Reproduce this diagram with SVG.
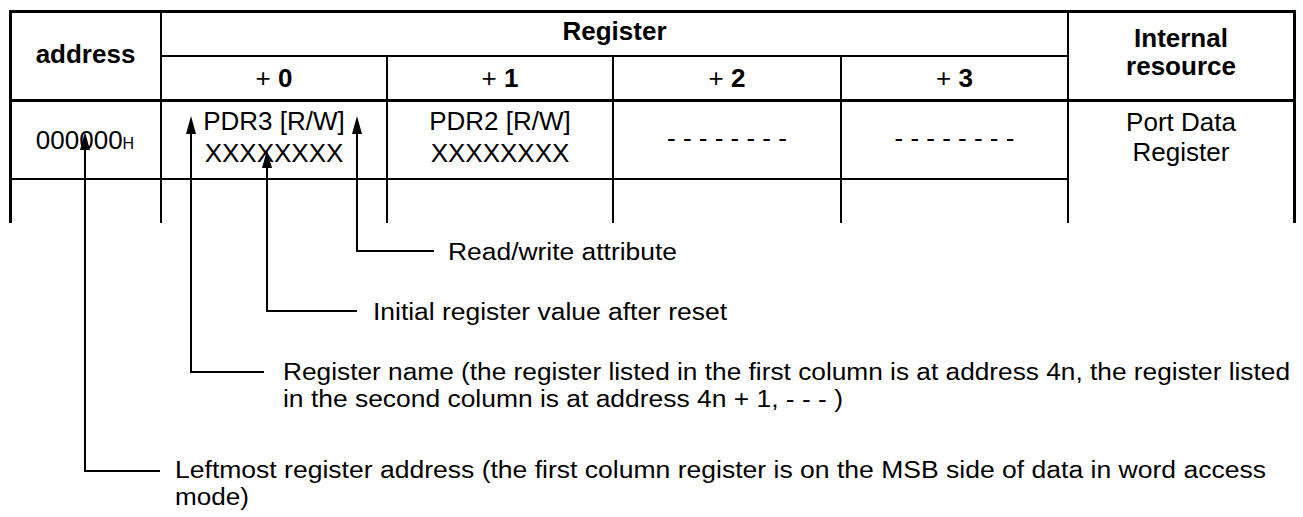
<svg xmlns="http://www.w3.org/2000/svg" width="1303" height="517" viewBox="0 0 1303 517">
<style>
  .thick { stroke: #000; stroke-width: 3; fill: none; }
  .thin { stroke: #000; stroke-width: 2; fill: none; }
  .hd { font-family: "Liberation Sans", Arial, sans-serif; font-size: 26px; font-weight: bold; fill: #000; text-anchor: middle; }
  .tx { font-family: "Liberation Sans", Arial, sans-serif; font-size: 26px; fill: #000; text-anchor: middle; }
  .note { font-family: "Liberation Sans", Arial, sans-serif; font-size: 23.5px; fill: #000; }
  .callout { stroke: #000; stroke-width: 2; fill: none; marker-end: url(#ah); }
</style>
<defs>
  <marker id="ah" viewBox="0 0 18 10" refX="8" refY="5" markerWidth="18" markerHeight="10" markerUnits="userSpaceOnUse" orient="auto">
    <path d="M0,0 L18,5 L0,10 z" fill="#000"/>
  </marker>
</defs>
<rect width="1303" height="517" fill="#fff"/>

<g id="table-grid">
  <line class="thick" x1="9" y1="11.5" x2="1296" y2="11.5"/>
  <line class="thick" x1="10.5" y1="10" x2="10.5" y2="223"/>
  <line class="thick" x1="1294.5" y1="10" x2="1294.5" y2="223"/>
  <line class="thick" x1="9" y1="100.5" x2="1296" y2="100.5"/>
  <line class="thin" x1="161" y1="11" x2="161" y2="223"/>
  <line class="thin" x1="1068" y1="11" x2="1068" y2="223"/>
  <line class="thin" x1="161" y1="56" x2="1068" y2="56"/>
  <line class="thin" x1="387" y1="56" x2="387" y2="223"/>
  <line class="thin" x1="613" y1="56" x2="613" y2="223"/>
  <line class="thin" x1="841" y1="56" x2="841" y2="223"/>
  <line class="thin" x1="10" y1="179" x2="1068" y2="179"/>
</g>

<g id="hdr-address"><text class="hd" x="85.5" y="63">address</text></g>
<g id="hdr-register"><text class="hd" x="614.5" y="40">Register</text></g>
<g id="hdr-internal"><text class="hd" x="1181" y="47">Internal</text><text class="hd" x="1181" y="75">resource</text></g>
<g id="hdr-plus0"><text class="hd" x="274" y="87"><tspan font-weight="normal">+</tspan> 0</text></g>
<g id="hdr-plus1"><text class="hd" x="500" y="87"><tspan font-weight="normal">+</tspan> 1</text></g>
<g id="hdr-plus2"><text class="hd" x="727" y="87"><tspan font-weight="normal">+</tspan> 2</text></g>
<g id="hdr-plus3"><text class="hd" x="954.5" y="87"><tspan font-weight="normal">+</tspan> 3</text></g>

<g id="cell-address"><text class="tx" x="85" y="149">000000<tspan font-size="16">H</tspan></text></g>
<g id="cell-pdr3"><text class="tx" x="274" y="130">PDR3 [R/W]</text><text class="tx" x="274" y="162">XXXXXXXX</text></g>
<g id="cell-pdr2"><text class="tx" x="500" y="130">PDR2 [R/W]</text><text class="tx" x="500" y="162">XXXXXXXX</text></g>
<g id="cell-plus2"><text class="tx" x="727" y="147">- - - - - - - -</text></g>
<g id="cell-plus3"><text class="tx" x="954.5" y="147">- - - - - - - -</text></g>
<g id="cell-resource"><text class="tx" x="1181" y="131">Port Data</text><text class="tx" x="1181" y="161">Register</text></g>

<g id="connectors">
  <path class="callout" d="M434,251 H357 V126"/>
  <path class="callout" d="M357,311 H267 V160"/>
  <path class="callout" d="M264,372 H191 V126"/>
  <path class="callout" d="M160,471 H85 V142"/>
</g>

<g id="note-rw"><text class="note" x="448" y="260" textLength="229" lengthAdjust="spacingAndGlyphs">Read/write attribute</text></g>
<g id="note-init"><text class="note" x="373" y="319.5" textLength="354" lengthAdjust="spacingAndGlyphs">Initial register value after reset</text></g>
<g id="note-name">
  <text class="note" x="283" y="380" textLength="1007" lengthAdjust="spacingAndGlyphs">Register name (the register listed in the first column is at address 4n, the register listed</text>
  <text class="note" x="283" y="407" textLength="560" lengthAdjust="spacingAndGlyphs">in the second column is at address 4n + 1, - - - )</text>
</g>
<g id="note-address">
  <text class="note" x="175" y="478" textLength="1091" lengthAdjust="spacingAndGlyphs">Leftmost register address (the first column register is on the MSB side of data in word access</text>
  <text class="note" x="175" y="505" textLength="74" lengthAdjust="spacingAndGlyphs">mode)</text>
</g>
</svg>
